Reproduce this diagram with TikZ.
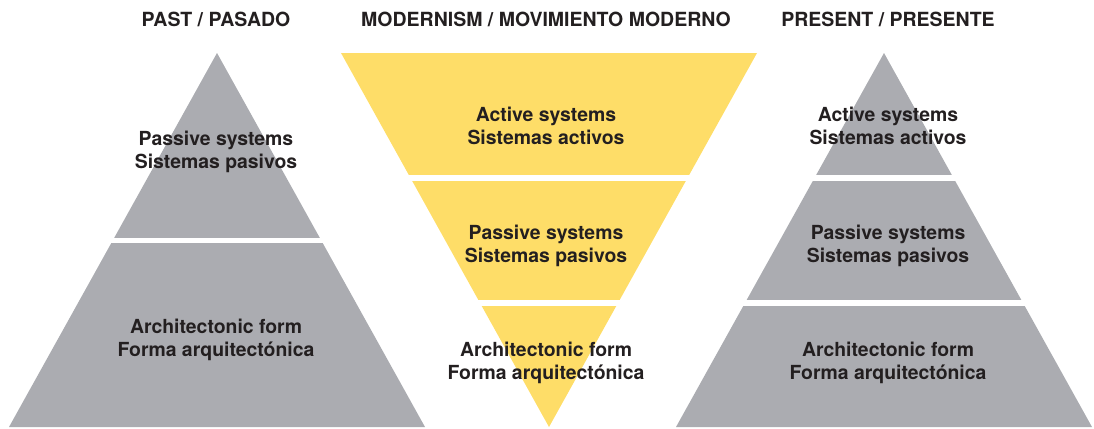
\documentclass[tikz,border=0pt]{standalone}
\usepackage{fontspec}
\setmainfont{TeX Gyre Heros}
\usetikzlibrary{positioning}

\definecolor{stonegray}{HTML}{ABACB1}
\definecolor{sunyellow}{HTML}{FEDD68}
\definecolor{inkblack}{HTML}{231F20}

\begin{document}
\begin{tikzpicture}[
    x=1pt, y=-1pt,
    oldtier/.style={fill=stonegray},
    modtier/.style={fill=sunyellow},
    head/.style={font=\fontsize{19.5}{22}\selectfont\bfseries, text=inkblack, anchor=base},
    lbl/.style={font=\fontsize{19.4}{23}\selectfont\bfseries, text=inkblack, align=center, anchor=base, inner sep=0pt}
  ]
  \useasboundingbox (0,0) rectangle (1094,428);

  % past: two tiers
  \begin{scope}
    \clip (217,53) -- (425,427) -- (9,427) -- cycle;
    \fill[oldtier] (0,53) rectangle (440,238);
    \fill[oldtier] (0,243) rectangle (440,428);
  \end{scope}

  % modernism: inverted, three tiers
  \begin{scope}
    \clip (341,53) -- (757,53) -- (549,427) -- cycle;
    \fill[modtier] (330,53) rectangle (770,175);
    \fill[modtier] (330,181) rectangle (770,300);
    \fill[modtier] (330,306) rectangle (770,428);
  \end{scope}

  % present: three tiers
  \begin{scope}
    \clip (884,53) -- (1092,427) -- (676,427) -- cycle;
    \fill[oldtier] (660,53) rectangle (1094,175);
    \fill[oldtier] (660,181) rectangle (1094,300);
    \fill[oldtier] (660,306) rectangle (1094,428);
  \end{scope}

  % column headings
  \node[head] (past) at (216,27) {PAST / PASADO};
  \node[head] (modern) at (546,27) {MODERNISM / MOVIMIENTO MODERNO};
  \node[head] (present) at (888,27) {PRESENT / PRESENTE};

  % tier labels (base = last line)
  \node[lbl] (pastpas) at (216,168) {Passive systems\\Sistemas pasivos};
  \node[lbl] (pastform) at (216,356) {Architectonic form\\Forma arquitectónica};

  \node[lbl] (modact) at (546,144) {Active systems\\Sistemas activos};
  \node[lbl] (modpas) at (546,262) {Passive systems\\Sistemas pasivos};
  \node[lbl] (modform) at (546,379) {Architectonic form\\Forma arquitectónica};

  \node[lbl] (preact) at (888,144) {Active systems\\Sistemas activos};
  \node[lbl] (prepas) at (888,262) {Passive systems\\Sistemas pasivos};
  \node[lbl] (preform) at (888,379) {Architectonic form\\Forma arquitectónica};
\end{tikzpicture}
\end{document}
